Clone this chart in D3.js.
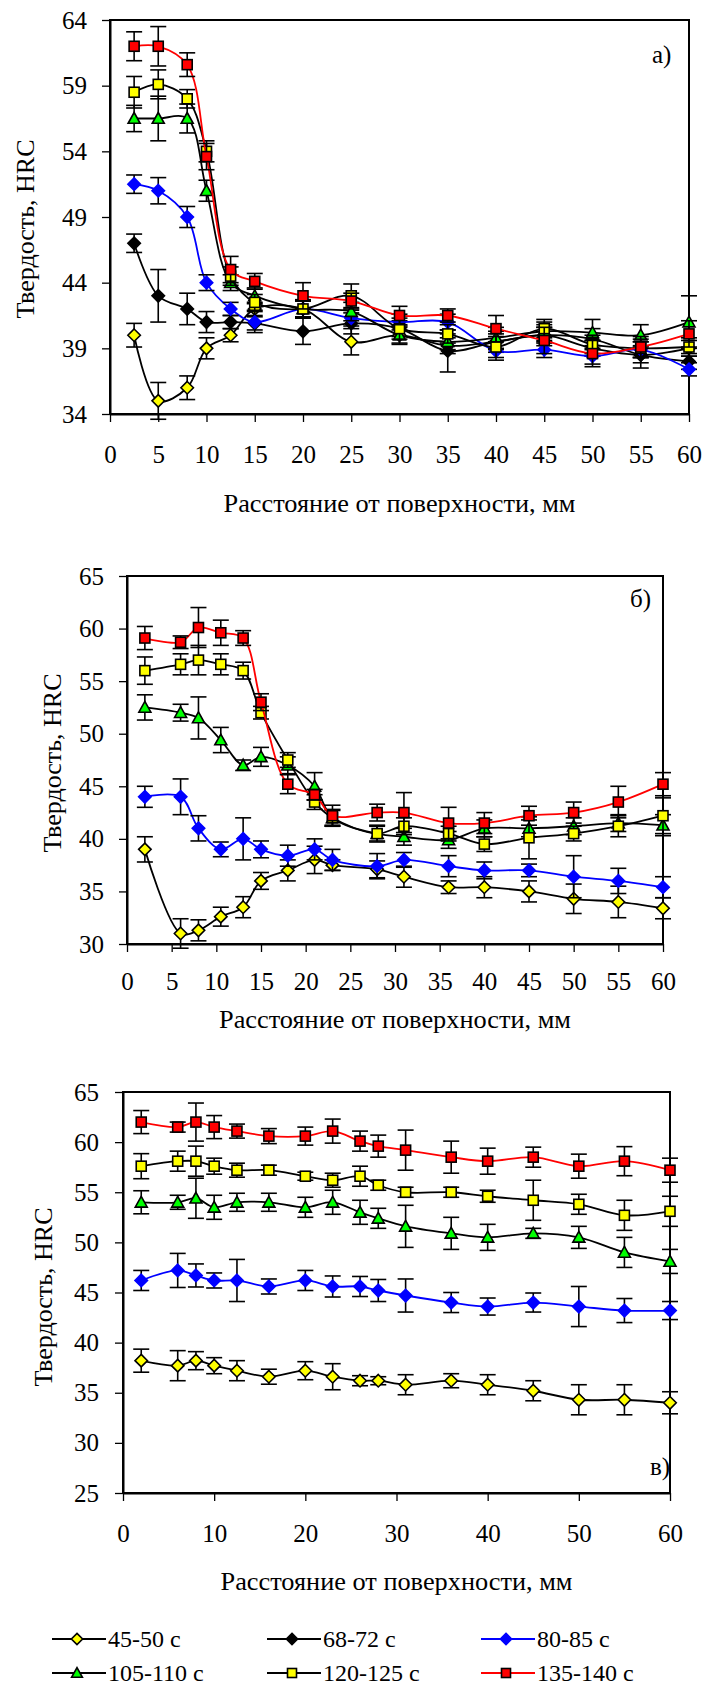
<!DOCTYPE html>
<html>
<head>
<meta charset="utf-8">
<script src="https://cdn.jsdelivr.net/npm/d3@7"></script>
<style>
  body { margin: 0; background: #fff; }
</style>
</head>
<body>
<div id="chart"></div>
<script>
////////////////////////////////////////////////////////////////////////////////////
// Data
var seriesNames = ["45-50 с", "68-72 с", "80-85 с", "105-110 с", "120-125 с", "135-140 с"];
var markerFill  = ["#ffff00", "#000000", "#0000ff", "#00ff00", "#ffff00", "#ff0000"];
var markerLine  = ["#000000", "#000000", "#0000ff", "#000000", "#000000", "#000000"];
var lineColor   = ["#000000", "#000000", "#0000ff", "#000000", "#000000", "#ff0000"];
var markerShape = ["diamond", "diamond", "diamond", "triangle", "square", "square"];

// panel а)
var xA = [2.5, 5, 8, 10, 12.5, 15, 20, 25, 30, 35, 40, 45, 50, 55, 60];
var a_4550 = [40.0, 35.0, 36.0, 39.0, 40.0, 42.0, 42.0, 39.5, 40.0, 39.2, 39.5, 40.0, 39.0, 38.5, 39.0];
var a_6872 = [47.0, 43.0, 42.0, 41.0, 41.0, 40.9, 40.3, 40.9, 40.5, 38.8, 39.5, 40.0, 39.7, 38.5, 38.0];
var a_8085 = [51.5, 51.0, 49.0, 44.0, 42.0, 41.0, 42.0, 41.3, 41.0, 41.0, 38.8, 38.9, 38.4, 38.9, 37.4];
var a_105  = [56.5, 56.5, 56.5, 51.0, 44.0, 43.0, 42.0, 41.8, 40.0, 39.5, 39.8, 40.3, 40.2, 40.0, 41.0];
var a_120  = [58.5, 59.1, 58.0, 54.0, 44.5, 42.5, 42.0, 43.0, 40.5, 40.1, 39.1, 40.5, 39.3, 39.0, 39.1];
var a_135  = [62.0, 62.0, 60.6, 53.6, 45.0, 44.1, 43.0, 42.6, 41.5, 41.5, 40.5, 39.6, 38.6, 39.1, 40.1];
var ea_4550 = [0.9, 1.4, 0.9, 0.8, 0.5, 0.5, 0.6, 1.0, 0.6, 0.6, 0.6, 0.6, 0.6, 0.6, 0.6];
var ea_6872 = [0.7, 2.0, 1.2, 0.8, 0.5, 0.5, 1.0, 0.8, 0.6, 1.6, 0.8, 0.8, 0.8, 1.0, 0.6];
var ea_8085 = [0.7, 1.0, 0.8, 0.6, 0.5, 0.8, 0.6, 0.6, 0.6, 0.6, 0.7, 0.6, 0.6, 0.6, 0.5];
var ea_105  = [1.0, 1.7, 1.1, 0.8, 0.6, 0.6, 0.7, 0.7, 0.7, 0.6, 0.8, 0.7, 1.0, 0.8, 2.0];
var ea_120  = [1.2, 1.1, 0.7, 0.8, 0.7, 0.6, 0.7, 0.9, 0.8, 0.7, 0.8, 0.7, 0.7, 0.7, 0.7];
var ea_135  = [1.1, 1.5, 0.9, 1.0, 1.0, 0.6, 1.0, 0.6, 0.7, 0.5, 1.0, 1.0, 1.0, 0.8, 1.0];

// panel б)
var xB = [2, 6, 8, 10.5, 13, 15, 18, 21, 23, 28, 31, 36, 40, 45, 50, 55, 60];
var b_4550 = [39.0, 31.0, 31.3, 32.6, 33.5, 36.0, 37.0, 38.0, 37.5, 37.1, 36.4, 35.4, 35.4, 35.0, 34.3, 34.0, 33.4];
var b_8085 = [44.0, 44.0, 41.0, 39.0, 40.0, 39.0, 38.4, 39.0, 38.0, 37.4, 38.0, 37.4, 37.0, 37.0, 36.4, 36.0, 35.4];
var b_105  = [52.5, 52.0, 51.5, 49.4, 47.0, 47.8, 47.0, 45.0, 42.0, 40.5, 40.2, 39.9, 41.0, 41.0, 41.2, 41.5, 41.3];
var b_120  = [56.0, 56.6, 57.0, 56.6, 56.0, 52.0, 47.5, 43.5, 42.0, 40.5, 41.2, 40.5, 39.5, 40.1, 40.5, 41.2, 42.2];
var b_135  = [59.1, 58.7, 60.1, 59.6, 59.1, 53.0, 45.2, 44.2, 42.2, 42.5, 42.5, 41.5, 41.5, 42.2, 42.5, 43.5, 45.2];
var eb_4550 = [1.2, 1.4, 1.0, 0.9, 1.0, 0.8, 1.0, 1.3, 0.5, 0.8, 1.0, 0.6, 1.0, 1.0, 1.4, 1.5, 1.0];
var eb_8085 = [1.0, 1.7, 1.2, 0.7, 2.0, 0.8, 1.0, 1.0, 1.0, 1.2, 0.7, 1.0, 0.8, 0.6, 2.0, 1.2, 1.0];
var eb_105  = [1.2, 0.8, 2.0, 1.2, 0.5, 0.9, 0.8, 1.3, 0.8, 0.8, 0.8, 0.8, 0.8, 0.8, 0.8, 0.8, 1.0];
var eb_120  = [1.3, 1.0, 1.4, 1.0, 0.8, 0.6, 0.7, 0.7, 0.7, 0.7, 0.8, 0.7, 0.7, 2.0, 0.7, 1.0, 1.7];
var eb_135  = [1.1, 0.6, 1.9, 1.2, 0.7, 0.8, 0.9, 0.5, 1.0, 0.8, 1.9, 1.5, 1.0, 0.9, 1.0, 1.5, 1.1];

// panel в)
var xC = [2, 6, 8, 10, 12.5, 16, 20, 23, 26, 28, 31, 36, 40, 45, 50, 55, 60];
var c_4550 = [38.2, 37.7, 38.2, 37.7, 37.2, 36.6, 37.2, 36.6, 36.2, 36.2, 35.8, 36.2, 35.8, 35.2, 34.3, 34.3, 34.0];
var c_8085 = [46.2, 47.2, 46.7, 46.2, 46.2, 45.6, 46.2, 45.6, 45.6, 45.2, 44.7, 44.0, 43.6, 44.0, 43.6, 43.2, 43.2];
var c_105  = [54.0, 54.0, 54.4, 53.5, 54.0, 54.0, 53.5, 54.0, 53.0, 52.4, 51.6, 50.9, 50.5, 50.9, 50.5, 49.0, 48.1];
var c_120  = [57.6, 58.1, 58.1, 57.6, 57.2, 57.2, 56.6, 56.2, 56.6, 55.7, 55.0, 55.0, 54.6, 54.2, 53.8, 52.7, 53.1];
var c_135  = [62.0, 61.5, 62.0, 61.5, 61.1, 60.6, 60.6, 61.1, 60.1, 59.6, 59.2, 58.5, 58.1, 58.5, 57.6, 58.1, 57.2];
var ec_4550 = [1.15, 1.5, 0.9, 0.8, 1.0, 0.75, 0.9, 1.3, 0.5, 0.4, 1.0, 0.7, 1.0, 1.0, 1.5, 1.5, 1.1];
var ec_8085 = [1.0, 1.7, 1.15, 0.75, 2.1, 0.75, 1.0, 1.05, 1.0, 1.1, 1.65, 1.0, 0.85, 0.95, 2.0, 1.2, 0.9];
var ec_105  = [1.15, 0.7, 2.0, 1.2, 0.9, 0.9, 1.0, 1.2, 1.2, 1.0, 2.1, 1.6, 1.3, 0.5, 1.1, 1.5, 1.2];
var ec_120  = [1.25, 1.0, 1.5, 0.8, 0.7, 0.5, 0.4, 0.7, 1.0, 0.5, 0.5, 0.5, 0.6, 2.0, 1.0, 1.5, 1.5];
var ec_135  = [1.15, 0.5, 1.9, 1.15, 0.7, 0.75, 0.9, 1.2, 1.0, 1.1, 2.0, 1.6, 1.3, 1.0, 1.2, 1.45, 1.2];

// tick labels
var yTicksA = [34, 39, 44, 49, 54, 59, 64];
var yTicksB = [30, 35, 40, 45, 50, 55, 60, 65];
var yTicksC = [25, 30, 35, 40, 45, 50, 55, 60, 65];
var xTicks5  = [0, 5, 10, 15, 20, 25, 30, 35, 40, 45, 50, 55, 60];
var xTicks10 = [0, 10, 20, 30, 40, 50, 60];

var xTitle = "Расстояние от поверхности, мм";
var yTitle = "Твердость, HRC";

var serifFont = "'Liberation Serif'";

////////////////////////////////////////////////////////////////////////////////////
// Setup
var svg = d3.select("#chart").append("svg")
            .attr("width", 705)
            .attr("height", 1688);

svg.append("rect").attr("width", 705).attr("height", 1688).attr("fill", "white");

var panels = [
  { l: 110, r: 689, t: 20, b: 414, yDomain: [34, 64], yTicks: yTicksA, xTicks: xTicks5,
    x: xA, values: [a_4550, a_6872, a_8085, a_105, a_120, a_135],
    errs: [ea_4550, ea_6872, ea_8085, ea_105, ea_120, ea_135],
    label: "а)", labelX: 652, labelY: 63, yPad: 15, xLabelY: 49, titleY: 512, yTitleX: 25, yTitleY: 229 },
  { l: 127, r: 663, t: 576, b: 944, yDomain: [30, 65], yTicks: yTicksB, xTicks: xTicks5,
    x: xB, values: [b_4550, null, b_8085, b_105, b_120, b_135],
    errs: [eb_4550, null, eb_8085, eb_105, eb_120, eb_135],
    label: "б)", labelX: 630, labelY: 607, yPad: 15, xLabelY: 46, titleY: 1028, yTitleX: 52, yTitleY: 763 },
  { l: 123, r: 670, t: 1092, b: 1493, yDomain: [25, 65], yTicks: yTicksC, xTicks: xTicks10,
    x: xC, values: [c_4550, null, c_8085, c_105, c_120, c_135],
    errs: [ec_4550, null, ec_8085, ec_105, ec_120, ec_135],
    label: "в)", labelX: 650, labelY: 1475, yPad: 16, xLabelY: 49, titleY: 1590, yTitleX: 43, yTitleY: 1297 }
];

////////////////////////////////////////////////////////////////////////////////////
// Marker drawing
function drawMarker(g, shape, cx, cy, fill, stroke, size) {
  if (shape == "square") {
    g.append("rect")
     .attr("x", cx - size).attr("y", cy - size)
     .attr("width", size * 2).attr("height", size * 2)
     .attr("fill", fill).attr("stroke", stroke).attr("stroke-width", 1.6);
  }
  else if (shape == "diamond") {
    var r = size * 1.25;
    g.append("path")
     .attr("d", "M" + cx + "," + (cy - r) + "L" + (cx + r) + "," + cy + "L" + cx + "," + (cy + r) + "L" + (cx - r) + "," + cy + "Z")
     .attr("fill", fill).attr("stroke", stroke).attr("stroke-width", 1.6);
  }
  else if (shape == "triangle") {
    var h = size * 1.2;
    g.append("path")
     .attr("d", "M" + cx + "," + (cy - h) + "L" + (cx + h) + "," + (cy + h * 0.8) + "L" + (cx - h) + "," + (cy + h * 0.8) + "Z")
     .attr("fill", fill).attr("stroke", "#000").attr("stroke-width", 1.6);
  }
}; // end drawMarker

// every text gets the serif face directly (axis groups set their own font)
function serif(sel, size) {
  sel.attr("font-family", null)
     .style("font-family", serifFont)
     .style("font-size", size + "px")
     .attr("fill", "#000");
  return sel;
}; // end serif

////////////////////////////////////////////////////////////////////////////////////
// Panel drawing
function drawPanel(p) {
  var xScale = d3.scaleLinear().domain([0, 60]).range([p.l, p.r]);
  var yScale = d3.scaleLinear().domain(p.yDomain).range([p.b, p.t]);
  var g = svg.append("g");

  // y axis
  var yAxis = g.append("g")
               .attr("transform", "translate(" + p.l + ",0)")
               .call(d3.axisLeft(yScale).tickValues(p.yTicks).tickSize(8).tickSizeOuter(0).tickPadding(p.yPad));
  // x axis
  var xAxis = g.append("g")
               .attr("transform", "translate(0," + p.b + ")")
               .call(d3.axisBottom(xScale).tickValues(p.xTicks).tickSize(8).tickSizeOuter(0));
  xAxis.selectAll("text").attr("y", p.xLabelY).attr("dy", null);

  [yAxis, xAxis].forEach(function(ax) {
    ax.attr("font-family", null).attr("font-size", null);
    ax.selectAll("path.domain").attr("stroke-width", 2);
    ax.selectAll(".tick line").attr("stroke-width", 1.3);
    serif(ax.selectAll("text"), 25);
  });

  // plot frame
  g.append("rect")
   .attr("x", p.l).attr("y", p.t)
   .attr("width", p.r - p.l).attr("height", p.b - p.t)
   .attr("fill", "none").attr("stroke", "#000").attr("stroke-width", 2);

  // titles
  serif(g.append("text"), 26)
   .attr("x", (p.l + p.r) / 2).attr("y", p.titleY)
   .attr("text-anchor", "middle")
   .attr("textLength", 352).attr("lengthAdjust", "spacingAndGlyphs")
   .text(xTitle);
  serif(g.append("text"), 26)
   .attr("transform", "translate(" + p.yTitleX + "," + p.yTitleY + ") rotate(-90)")
   .attr("text-anchor", "middle")
   .attr("dy", "0.35em")
   .text(yTitle);
  serif(g.append("text"), 25)
   .attr("x", p.labelX).attr("y", p.labelY)
   .text(p.label);

  var line = d3.line()
               .x(function(d) { return xScale(d[0]); })
               .y(function(d) { return yScale(d[1]); })
               .curve(d3.curveCatmullRom.alpha(0.5));

  p.values.forEach(function(vals, s) {
    if (vals == null) return;
    var pts = vals.map(function(v, i) { return [p.x[i], v, p.errs[s][i]]; });
    var sg = g.append("g").attr("class", "series");

    sg.append("path")
      .datum(pts)
      .attr("d", line)
      .attr("fill", "none")
      .attr("stroke", lineColor[s])
      .attr("stroke-width", 1.8);

    // error bars
    pts.forEach(function(d) {
      var cx = xScale(d[0]);
      var y0 = yScale(d[1] - d[2]), y1 = yScale(d[1] + d[2]);
      sg.append("line").attr("x1", cx).attr("x2", cx).attr("y1", y0).attr("y2", y1)
        .attr("stroke", "#000").attr("stroke-width", 1.6);
      [y0, y1].forEach(function(yy) {
        sg.append("line").attr("x1", cx - 8).attr("x2", cx + 8).attr("y1", yy).attr("y2", yy)
          .attr("stroke", "#000").attr("stroke-width", 1.6);
      });
    });

    // markers
    pts.forEach(function(d) {
      drawMarker(sg, markerShape[s], xScale(d[0]), yScale(d[1]), markerFill[s], markerLine[s], 5);
    });
  });
}; // end drawPanel

panels.forEach(drawPanel);

////////////////////////////////////////////////////////////////////////////////////
// Legend
var legendCols = [52, 267, 481];
var legendRows = [1639, 1673];
seriesNames.forEach(function(name, i) {
  var lx = legendCols[i % 3], ly = legendRows[Math.floor(i / 3)];
  var lg = svg.append("g");
  lg.append("line").attr("x1", lx).attr("x2", lx + 54).attr("y1", ly).attr("y2", ly)
    .attr("stroke", lineColor[i]).attr("stroke-width", 1.8);
  drawMarker(lg, markerShape[i], lx + 25, ly, markerFill[i], markerLine[i], 4.5);
  serif(lg.append("text"), 24)
    .attr("x", lx + 56).attr("y", ly).attr("dy", "0.35em")
    .text(name);
});
</script>
</body>
</html>
